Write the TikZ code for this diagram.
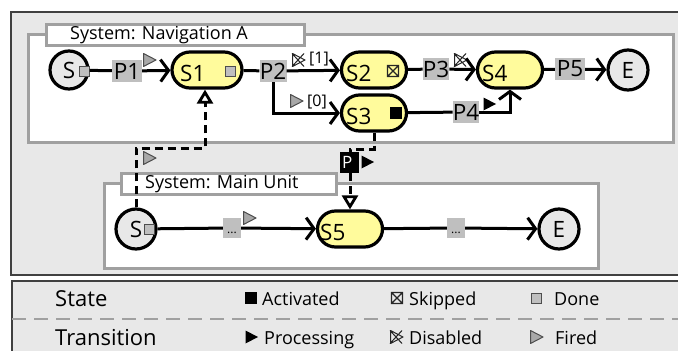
\documentclass[tikz,border=0pt]{standalone}
\usepackage{fontspec}
\setmainfont{Open Sans}
\usetikzlibrary{arrows.meta,shapes.misc,calc}

\definecolor{panelbg}{HTML}{E8E8E8}
\definecolor{frameline}{HTML}{404040}
\definecolor{boxgray}{HTML}{A0A0A0}
\definecolor{transgray}{HTML}{BFBFBF}
\definecolor{stateyellow}{HTML}{FFFB9C}
\definecolor{iconline}{HTML}{4D4D4D}
\definecolor{firedfill}{HTML}{A8A8A8}

\newcommand\dgmNodeFont{\fontsize{22.5}{24}\selectfont}
\newcommand\dgmTitleFont{\fontsize{18}{20}\selectfont}
\newcommand\dgmLegendFont{\fontsize{22}{24}\selectfont}
\newcommand\dgmItemFont{\fontsize{18}{20}\selectfont}
\newcommand\dgmSmallFont{\fontsize{16}{18}\selectfont}

\tikzset{
  panel/.style={draw=frameline, line width=1.2pt, fill=panelbg},
  container/.style={draw=boxgray, line width=3.2pt, fill=white, inner sep=0pt},
  titlebox/.style={draw=boxgray, line width=2.8pt, fill=white, inner sep=0pt},
  stateblk/.style={rounded rectangle, draw, line width=3.2pt, fill=stateyellow,
    minimum width=65pt, minimum height=36pt, inner sep=0pt},
  terminal/.style={circle, draw, line width=3.2pt, fill=panelbg,
    minimum size=38pt, inner sep=0pt, font=\dgmNodeFont},
  transbox/.style={rectangle, fill=transgray, inner sep=0pt,
    minimum height=22pt, font=\dgmNodeFont},
  dotbox/.style={rectangle, fill=transgray, inner sep=0pt, minimum width=18pt,
    minimum height=20pt, font=\fontsize{12}{12}\selectfont,
    text height=10pt, text depth=0pt},
  plain/.style={line width=3pt},
  conn/.style={line width=3pt, -{Straight Barb[length=8pt,width=22pt]}},
  link/.style={line width=3pt, dash pattern=on 8pt off 5pt},
  linkhead/.style={link, -{Triangle[length=14pt,width=16pt,fill=white,line width=2.8pt]}},
  done icon/.pic={\draw[line width=1pt, draw=iconline, fill=transgray] (-5,-5) rectangle (5,5);},
  active icon/.pic={\fill[black] (-6,-6) rectangle (6,6);},
  skip icon/.pic={\draw[line width=1.1pt, draw=black!85] (-5.5,-5.5) rectangle (5.5,5.5)
      (-5.5,-5.5) -- (5.5,5.5) (-5.5,5.5) -- (5.5,-5.5);},
  proc icon/.pic={\fill[black] (-5.5,-6.5) -- (7,0) -- (-5.5,6.5) -- cycle;},
  fired icon/.pic={\draw[line width=1pt, draw=iconline, fill=firedfill, line join=round]
      (-5.5,-6.5) -- (7,0) -- (-5.5,6.5) -- cycle;},
  disabled icon/.pic={\draw[line width=1pt, draw=black!85, line join=round]
      (-5.5,-6.5) -- (7,0) -- (-5.5,6.5) -- cycle
      (-6,-6.5) -- (6,6.5) (-6,6.5) -- (6,-6.5);},
  lbl/.style={anchor=base west, inner sep=0pt},
}

\begin{document}
\begin{tikzpicture}[x=1pt,y=-1pt]
\useasboundingbox (0,0) rectangle (678,351);

% ---------- frames ----------
\path[panel] (11,12) rectangle (700,275);
\path[panel] (12,281) rectangle (700,360);

% ---------- system containers ----------
\node[container, anchor=north west, minimum width=645pt, minimum height=108pt] (nav) at (27,33) {};
\node[titlebox, anchor=north west, minimum width=258pt, minimum height=21pt] (navtitle) at (45,23) {};
\node[lbl, font=\dgmTitleFont] (navlbl) at (70,39) {System: Navigation A};

\node[container, anchor=north west, minimum width=494pt, minimum height=85pt] (main) at (103,182) {};
\node[titlebox, anchor=north west, minimum width=215pt, minimum height=21pt] (maintitle) at (120,172) {};
\node[lbl, font=\dgmTitleFont] (mainlbl) at (145,188) {System: Main Unit};

% ---------- Navigation A ----------
\node[terminal] (nS) at (69,70) {S};
\node[transbox, minimum width=30pt] (P1) at (127,71) {P1};
\node[stateblk, minimum width=70pt] (S1) at (207,70) {};
\node[transbox, minimum width=27pt] (P2) at (273,71) {P2};
\node[stateblk] (S2) at (374,70) {};
\node[stateblk] (S3) at (374,113) {};
\node[transbox, minimum width=25pt] (P3) at (436,69) {P3};
\node[stateblk] (S4) at (510,70) {};
\node[transbox, minimum width=26pt] (P4) at (466,112) {P4};
\node[transbox, minimum width=30pt] (P5) at (570,69) {P5};
\node[terminal, minimum size=40pt] (nE) at (628,70) {E};

\node[lbl, font=\dgmNodeFont] (S1t) at (180,81) {S1};
\node[lbl, font=\dgmNodeFont] (S2t) at (346,81) {S2};
\node[lbl, font=\dgmNodeFont] (S3t) at (346,124) {S3};
\node[lbl, font=\dgmNodeFont] (S4t) at (482,81) {S4};

\pic at (84,71) {done icon};
\pic at (149,60) {fired icon};
\pic at (230,71) {done icon};
\pic at (393,71) {skip icon};
\pic at (396,113) {active icon};
\pic at (460,60) {disabled icon};
\pic at (489,104) {proc icon};

\draw[plain] (nS) -- (P1);
\draw[conn] (P1) -- (S1);
\draw[plain] (S1) -- (P2);
\draw[conn] (P2) -- (S2);
\draw[conn] (P2.south) |- (S3.west);
\draw[plain] (S2) -- (P3);
\draw[conn] (P3) -- (S4);
\draw[plain] (S3) -- (P4);
\draw[conn] (P4.east) -| (S4.south);
\draw[plain] (S4) -- (P5);
\draw[conn] (P5) -- (nE);

\pic at (298,60) {disabled icon};
\node[lbl, font=\dgmSmallFont] (lbl1) at (309,63) {[1]};
\pic at (296,101) {fired icon};
\node[lbl, font=\dgmSmallFont] (lbl0) at (307,106) {[0]};

% ---------- Main Unit ----------
\node[terminal, minimum size=40pt] (mS) at (136,229) {S};
\node[dotbox] (d1) at (232,228) {...};
\node[stateblk] (S5) at (350,229) {};
\node[lbl, font=\dgmNodeFont] (S5t) at (320,240) {S5};
\node[dotbox] (d2) at (456,228) {...};
\node[terminal, minimum size=40pt] (mE) at (559,229) {E};

\pic at (149,229) {done icon};
\pic at (249,218) {fired icon};

\draw[plain] (mS) -- (d1);
\draw[conn] (d1) -- (S5);
\draw[plain] (S5) -- (d2);
\draw[conn] (d2) -- (mE);

% ---------- links between systems ----------
\coordinate (upbend) at (205,148);
\draw[linkhead] (mS.north) |- (upbend) -- (upbend |- S1.south);
\pic at (149,158) {fired icon};

\node[rectangle, fill=black, text=white, inner xsep=2pt, inner ysep=0pt,
      text width=15pt, align=left, minimum height=21pt,
      font=\fontsize{17}{17}\selectfont] (PP) at (349.5,162.5) {P};
\coordinate (downbend) at (350,149);
\draw[link] (S3.south) |- (downbend) -- (downbend |- PP.north);
\draw[linkhead] (downbend |- PP.south) -- (downbend |- S5.north);
\pic at (367,162) {proc icon};

% ---------- legend ----------
\draw[draw=boxgray, line width=1.8pt, dash pattern=on 14pt off 8pt] (12,319) -- (678,319);
\node[lbl, font=\dgmLegendFont] (lgState) at (55,306) {State};
\node[lbl, font=\dgmLegendFont] (lgTrans) at (55,345) {Transition};

\pic at (251,298) {active icon};
\node[lbl, font=\dgmItemFont] (lgAct) at (262,305) {Activated};
\pic at (397,298) {skip icon};
\node[lbl, font=\dgmItemFont] (lgSkip) at (409,305) {Skipped};
\pic at (536,298) {done icon};
\node[lbl, font=\dgmItemFont] (lgDone) at (554,305) {Done};

\pic at (251,337) {proc icon};
\node[lbl, font=\dgmItemFont] (lgProc) at (264,344) {Processing};
\pic at (396,337) {disabled icon};
\node[lbl, font=\dgmItemFont] (lgDis) at (409,344) {Disabled};
\pic at (536,337) {fired icon};
\node[lbl, font=\dgmItemFont] (lgFired) at (555,344) {Fired};
\end{tikzpicture}
\end{document}
